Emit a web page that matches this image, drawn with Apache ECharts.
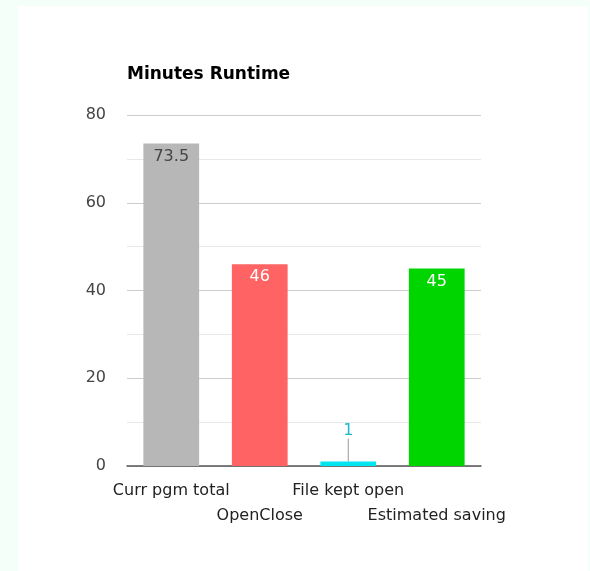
<!DOCTYPE html>
<html>
<head>
<meta charset="utf-8">
<style>
  html, body { margin: 0; padding: 0; background: #f4fffa; }
  #chart { width: 590px; height: 571px; }
</style>
<script src="https://cdn.jsdelivr.net/npm/echarts@6/dist/echarts.min.js"></script>
</head>
<body>
<div id="chart"></div>
<script>
// Runtime comparison, in minutes
const categories = ['Curr pgm total', 'OpenClose', 'File kept open', 'Estimated saving'];
const runtimes = [73.5, 46, 1, 45];
const barColors = ['#b7b7b7', '#ff6363', '#00e5f0', '#00d500'];
const labelColors = ['#444444', '#ffffff', '#1fb8c8', '#ffffff'];
const yTicks = [0, 20, 40, 60, 80];

const FONT = '"DejaVu Sans", "Liberation Sans", Arial, sans-serif';

const chart = echarts.init(document.getElementById('chart'), null, { renderer: 'canvas' });

const barData = runtimes.map((v, i) => {
  const small = v < 5;
  const item = {
    value: v,
    itemStyle: { color: barColors[i] },
    label: {
      show: true,
      position: small ? 'top' : 'insideTop',
      distance: 5,
      color: labelColors[i],
      fontSize: 16,
      fontFamily: FONT
    }
  };
  if (small) {
    item.labelLine = { show: true, lineStyle: { color: '#999999', width: 1 } };
  }
  return item;
});

chart.setOption({
  backgroundColor: '#f4fffa',
  animation: false,
  graphic: [{
    type: 'rect',
    shape: { x: 18, y: 6, width: 570, height: 565 },
    style: { fill: '#ffffff' },
    z: -10
  }],
  title: {
    text: 'Minutes Runtime',
    left: 127,
    top: 66,
    padding: 0,
    textStyle: { fontSize: 17, fontWeight: 'bold', color: '#000000', fontFamily: FONT }
  },
  grid: { left: 127, right: 109, top: 115, bottom: 105, containLabel: false },
  xAxis: {
    type: 'category',
    data: categories,
    axisLine: { lineStyle: { color: '#555555', width: 1.5 } },
    axisTick: { show: false },
    axisLabel: {
      interval: 0,
      color: '#222222',
      fontSize: 16,
      fontFamily: FONT,
      margin: 12,
      lineHeight: 25,
      formatter: (value, index) => (index % 2 ? '\n' + value : value)
    }
  },
  yAxis: {
    type: 'value',
    min: yTicks[0],
    max: yTicks[yTicks.length - 1],
    interval: 20,
    axisLine: { show: false },
    axisTick: { show: false },
    axisLabel: { color: '#444444', fontSize: 16, fontFamily: FONT, margin: 21 },
    splitLine: { lineStyle: { color: '#cccccc', width: 1 } },
    minorTick: { show: false, splitNumber: 2 },
    minorSplitLine: { show: true, lineStyle: { color: '#e8e8e8', width: 1 } }
  },
  series: [{
    type: 'bar',
    data: barData,
    barWidth: '63%',
    labelLayout: (params) => {
      return params.dataIndex === 2 ? { dy: -18 } : {};
    }
  }]
});
</script>
</body>
</html>
